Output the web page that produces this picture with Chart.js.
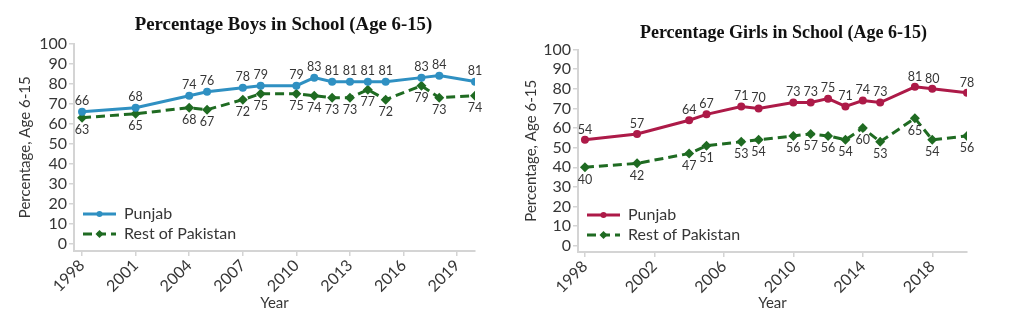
<!DOCTYPE html>
<html>
<head>
<meta charset="utf-8">
<script src="https://cdn.jsdelivr.net/npm/chart.js@4/dist/chart.umd.min.js"></script>
<style>
  html, body { margin: 0; padding: 0; background: #fff; }
  #wrap { width: 1024px; height: 334px; display: flex; }
  canvas { display: block; }
</style>
</head>
<body>
<div id="wrap">
  <canvas id="boysChart" width="512" height="334"></canvas>
  <canvas id="girlsChart" width="512" height="334"></canvas>
</div>
<script>
// Survey years and values
const years = [1998, 2001, 2004, 2005, 2007, 2008, 2010, 2011, 2012, 2013, 2014, 2015, 2017, 2018, 2020];

const boysPunjab = [66, 68, 74, 76, 78, 79, 79, 83, 81, 81, 81, 81, 83, 84, 81];
const boysRest   = [63, 65, 68, 67, 72, 75, 75, 74, 73, 73, 77, 72, 79, 73, 74];

const girlsPunjab = [54, 57, 64, 67, 71, 70, 73, 73, 75, 71, 74, 73, 81, 80, 78];
const girlsRest   = [40, 42, 47, 51, 53, 54, 56, 57, 56, 54, 60, 53, 65, 54, 56];

const boysYearTicks  = [1998, 2001, 2004, 2007, 2010, 2013, 2016, 2019];
const girlsYearTicks = [1998, 2002, 2006, 2010, 2014, 2018];
const pctTicks = [0, 10, 20, 30, 40, 50, 60, 70, 80, 90, 100];

const seriesNames = ['Punjab', 'Rest of Pakistan'];

const GREEN = '#1f6b22';
const AXIS = '#d4d4d4';
const TEXT = '#363636';
const SANS = 'Lato, "Open Sans", sans-serif';

function toPoints(values) {
    return values.map((v, i) => ({ x: years[i], y: v }));
}

// Labels above Punjab points, below Rest of Pakistan points
const valueLabels = {
    id: 'valueLabels',
    afterDatasetsDraw(chart) {
        const ctx = chart.ctx;
        ctx.save();
        ctx.font = '12.5px ' + SANS;
        ctx.fillStyle = TEXT;
        ctx.textAlign = 'center';
        chart.data.datasets.forEach((ds, di) => {
            const meta = chart.getDatasetMeta(di);
            meta.data.forEach((pt, i) => {
                const above = di === 0;
                ctx.textBaseline = above ? 'bottom' : 'top';
                const y = above ? pt.y - 4 : pt.y + 6;
                ctx.fillText(String(ds.data[i].y), pt.x, y);
            });
        });
        ctx.restore();
    }
};

// Legend drawn in the lower-left corner of the plot
const cornerLegend = {
    id: 'cornerLegend',
    afterDraw(chart) {
        const ctx = chart.ctx;
        const area = chart.chartArea;
        const x0 = area.left + 9;
        const rows = [area.bottom - 37, area.bottom - 17];
        ctx.save();
        chart.data.datasets.forEach((ds, di) => {
            const y = rows[di];
            ctx.strokeStyle = ds.borderColor;
            ctx.lineWidth = 3;
            ctx.setLineDash(ds.borderDash || []);
            ctx.beginPath();
            ctx.moveTo(x0, y);
            ctx.lineTo(x0 + 33, y);
            ctx.stroke();
            ctx.setLineDash([]);
            ctx.fillStyle = ds.pointBackgroundColor;
            ctx.beginPath();
            if (ds.pointStyle === 'rectRot') {
                const r = 4;
                ctx.moveTo(x0 + 16.5, y - r);
                ctx.lineTo(x0 + 16.5 + r, y);
                ctx.lineTo(x0 + 16.5, y + r);
                ctx.lineTo(x0 + 16.5 - r, y);
                ctx.closePath();
            } else {
                ctx.arc(x0 + 16.5, y, 3, 0, Math.PI * 2);
            }
            ctx.fill();
            ctx.fillStyle = TEXT;
            ctx.font = '16px ' + SANS;
            ctx.textAlign = 'left';
            ctx.textBaseline = 'middle';
            ctx.fillText(ds.label, x0 + 41, y);
        });
        ctx.restore();
    }
};

function makeChart(id, opts) {
    const datasets = [
        {
            label: seriesNames[0],
            data: toPoints(opts.punjab),
            borderColor: opts.color,
            backgroundColor: opts.color,
            pointBackgroundColor: opts.color,
            pointBorderWidth: 0,
            pointStyle: 'circle',
            pointRadius: 4,
            borderWidth: 3
        },
        {
            label: seriesNames[1],
            data: toPoints(opts.rest),
            borderColor: GREEN,
            backgroundColor: GREEN,
            pointBackgroundColor: GREEN,
            pointBorderWidth: 0,
            pointStyle: 'rectRot',
            pointRadius: 5,
            borderWidth: 3,
            borderDash: [9, 5]
        }
    ];

    // nudge the title a little right, as in the original figure
    const titleShift = {
        id: 'titleShift',
        afterLayout(chart) {
            if (chart.titleBlock) {
                chart.titleBlock.left += opts.titleShift;
                chart.titleBlock.right += opts.titleShift;
            }
        }
    };

    return new Chart(document.getElementById(id), {
        type: 'line',
        data: { datasets },
        plugins: [valueLabels, cornerLegend, titleShift],
        options: {
            responsive: false,
            animation: false,
            devicePixelRatio: 1,
            layout: { padding: { left: 0, right: opts.padRight, top: 0, bottom: 0 } },
            plugins: {
                legend: { display: false },
                tooltip: { enabled: false },
                title: {
                    display: true,
                    text: opts.title,
                    fullSize: false,
                    color: '#111',
                    font: { family: '"Liberation Serif", serif', size: opts.titleSize, weight: 'bold' },
                    padding: opts.titlePad
                }
            },
            scales: {
                x: {
                    type: 'linear',
                    min: opts.xMin,
                    max: 2020,
                    afterBuildTicks: (s) => { s.ticks = opts.xTicks.map(v => ({ value: v })); },
                    afterFit: (s) => { s.height = 334 - opts.axisY; },
                    grid: { drawOnChartArea: false, color: AXIS, tickLength: 5, lineWidth: 1.5 },
                    border: { color: AXIS, width: 2 },
                    ticks: {
                        autoSkip: false,
                        minRotation: 45,
                        maxRotation: 45,
                        color: TEXT,
                        padding: 0,
                        font: { family: SANS, size: 16 },
                        callback: (v) => String(v)
                    },
                    title: {
                        display: true,
                        text: 'Year',
                        color: TEXT,
                        font: { family: SANS, size: 15 },
                        padding: { top: 0, bottom: 22 }
                    }
                },
                y: {
                    min: opts.yMin,
                    max: 100,
                    afterBuildTicks: (s) => { s.ticks = pctTicks.map(v => ({ value: v })); },
                    afterFit: (s) => { s.width = opts.axisX; },
                    grid: { drawOnChartArea: false, color: AXIS, tickLength: 5, lineWidth: 1.5 },
                    border: { color: AXIS, width: 2 },
                    ticks: {
                        autoSkip: false,
                        color: TEXT,
                        padding: 2,
                        font: { family: SANS, size: 16 }
                    },
                    title: {
                        display: true,
                        text: 'Percentage, Age 6-15',
                        color: TEXT,
                        font: { family: SANS, size: 15 },
                        padding: { top: opts.yTitlePad, bottom: 0 }
                    }
                }
            }
        }
    });
}

makeChart('boysChart', {
    title: 'Percentage Boys in School (Age 6-15)',
    punjab: boysPunjab,
    rest: boysRest,
    color: '#2f90c2',
    xTicks: boysYearTicks,
    xMin: 1997.55,
    yMin: -3.5,
    axisX: 74,
    axisY: 251,
    padRight: 37,
    titleSize: 18.8,
    titlePad: { top: 14, bottom: 7 },
    yTitlePad: 16,
    titleShift: 9
});

makeChart('girlsChart', {
    title: 'Percentage Girls in School (Age 6-15)',
    punjab: girlsPunjab,
    rest: girlsRest,
    color: '#ad1a48',
    xTicks: girlsYearTicks,
    xMin: 1997.6,
    yMin: -3.2,
    axisX: 66,
    axisY: 252,
    padRight: 57,
    titleSize: 18,
    titlePad: { top: 23, bottom: 5 },
    yTitlePad: 10,
    titleShift: 11
});
</script>
</body>
</html>
